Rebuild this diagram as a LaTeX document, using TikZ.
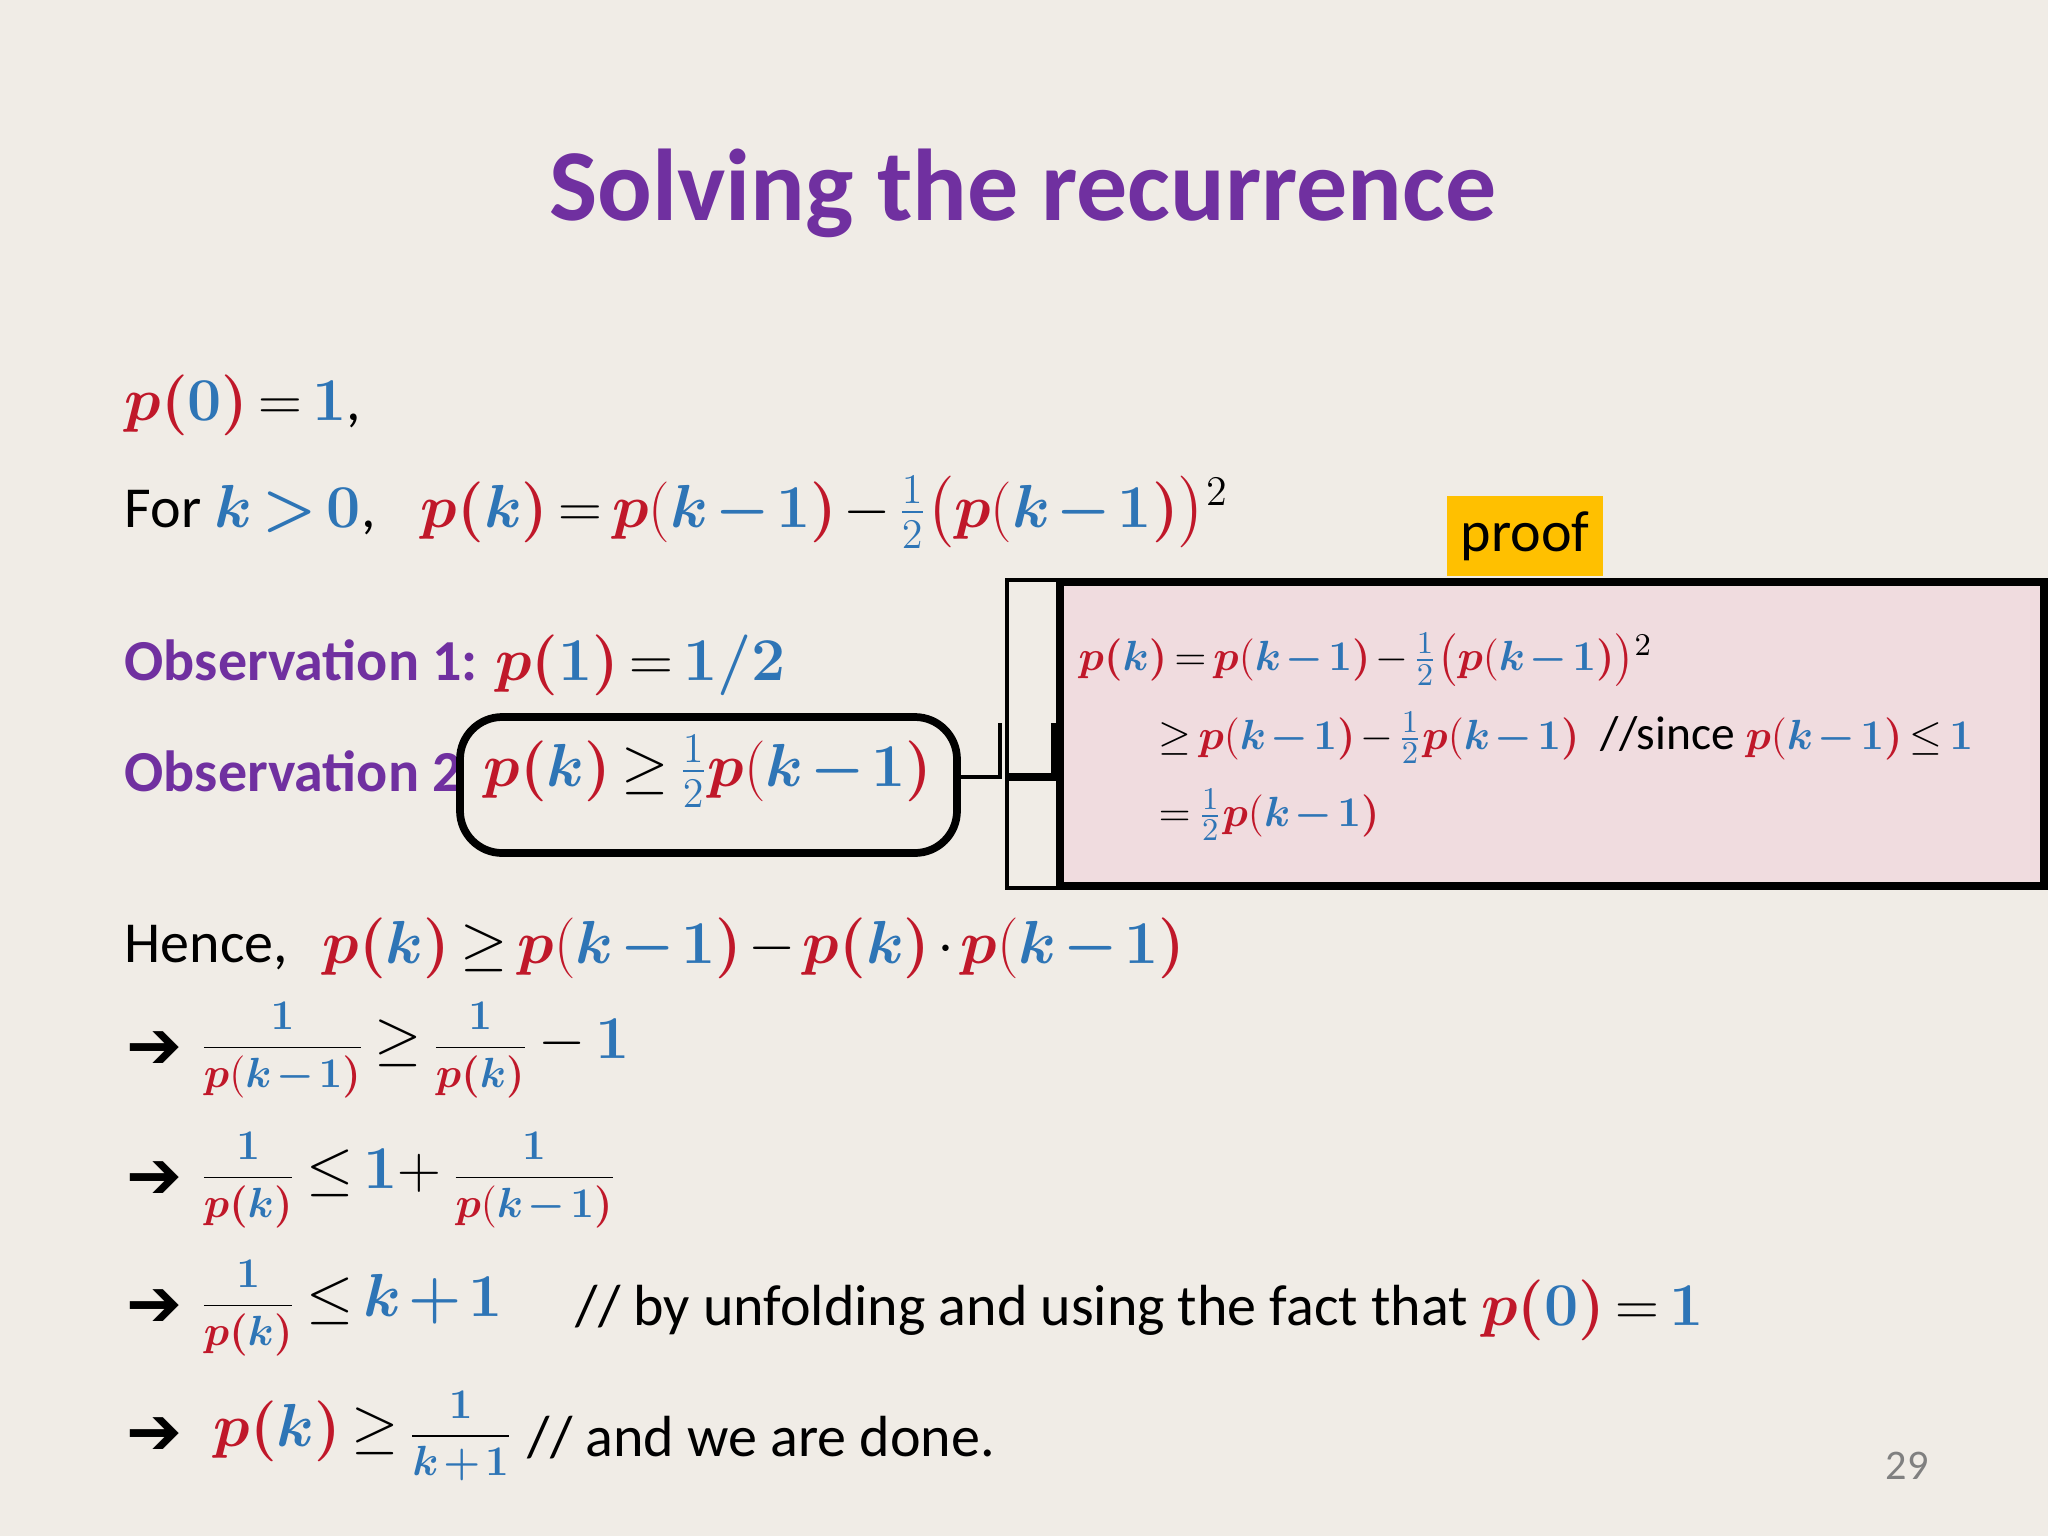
\documentclass[tikz,border=0pt]{standalone}
\usepackage{fontspec}
\usepackage{amsmath,amssymb,bm}
\setmainfont{Carlito}
\newfontfamily\djv{DejaVu Sans}
\definecolor{bg}{HTML}{F0ECE6}
\definecolor{myred}{HTML}{C0182A}
\definecolor{myblue}{HTML}{2E75B6}
\definecolor{mypurple}{HTML}{7030A0}
\definecolor{pinkfill}{HTML}{F0DCDF}
\definecolor{gold}{HTML}{FFC000}
\newcommand\R[1]{\textcolor{myred}{#1}}
\newcommand\Bl[1]{\textcolor{myblue}{#1}}
\newcommand\pp[1]{\R{\bm{p(}}\Bl{\bm{#1}}\R{\bm{)}}}
\newcommand\km{\Bl{\bm{k-1}}}
\newcommand\hf{\Bl{\tfrac{1}{2}}}
\newcommand\arr{{\djv\bfseries\fontsize{19}{20}\selectfont ➔}}
\newcommand\M[1]{{\fontsize{17}{20}\selectfont$\medmuskip=2mu\thickmuskip=3mu #1$}}
\newcommand\Ms[1]{{\fontsize{12.5}{15}\selectfont$\medmuskip=2mu\thickmuskip=3mu #1$}}
\newcommand\F[2]{{\fontsize{12.5}{15}\selectfont$\medmuskip=2mu\thickmuskip=3mu \dfrac{#1}{#2}$}}
\tikzset{
  txt/.style={anchor=west,inner sep=0pt,font=\fontsize{16.5}{20}\selectfont},
  ptxt/.style={anchor=west,inner sep=0pt,font=\fontsize{13.5}{16}\selectfont}
}
\begin{document}
\begin{tikzpicture}[x=0.01cm,y=-0.01cm]
\useasboundingbox[fill=bg] (0,0) rectangle (2048,1536);
\node[font=\fontsize{29}{34}\selectfont\bfseries,text=mypurple] (title) at (1023,193) {Solving the recurrence};
\node[txt] (l1) at (124,405) {\M{\pp{0}=\Bl{\bm 1}},};
\node[txt] (l2) at (124,512) {For \M{\Bl{\bm{k>0}}},\;\; \M{\pp{k}=\R{\bm p(}\km\R{\bm)}-\hf\R{\big(}\R{\bm p(}\km\R{\bm)}\R{\big)}^{2}}};
\node[txt] (o1) at (124,665) {\textcolor{mypurple}{\bfseries Observation 1:} \M{\pp{1}=\Bl{\bm{1/2}}}};
\node[txt] (o2) at (124,771) {\textcolor{mypurple}{\bfseries Observation 2}};
\node[txt] (o2m) at (483,771) {\M{\pp{k}\geq\hf\R{\bm p(}\km\R{\bm)}}};
\draw[line width=2.2pt,rounded corners=12pt] (460,717) rectangle (957,853);
% proof box
\node[fill=gold,minimum width=1.55cm,minimum height=0.79cm,inner sep=0pt,font=\fontsize{16.5}{20}\selectfont] (proof) at (1525,536) {proof};
\draw[line width=0.9pt] (1007,580) rectangle (2044,888);
\draw[line width=2.5pt,fill=pinkfill] (1060,582) rectangle (2044,886);
\draw[line width=0.9pt] (957,777) -- (1000,777) -- (1000,723);
\draw[line width=2.2pt] (1008,777) -- (1055,777) -- (1055,723);
\node[ptxt] (p1) at (1078,660) {\Ms{\pp{k}=\R{\bm p(}\km\R{\bm)}-\hf\R{\big(}\R{\bm p(}\km\R{\bm)}\R{\big)}^{2}}};
\node[ptxt] (p2) at (1158,738) {\Ms{\geq\R{\bm p(}\km\R{\bm)}-\hf\R{\bm p(}\km\R{\bm)}}\ \ //since \Ms{\R{\bm p(}\km\R{\bm)}\leq\Bl{\bm 1}}};
\node[ptxt] (p3) at (1158,815) {\Ms{=\hf\R{\bm p(}\km\R{\bm)}}};
% hence
\node[txt] (h) at (124,948) {Hence,};
\node[txt] (hm) at (322,948) {\M{\pp{k}\geq\R{\bm p(}\km\R{\bm)}-\pp{k}\cdot\R{\bm p(}\km\R{\bm)}}};
\node[txt] (r1) at (126,1050) {\arr};
\node[txt] (a1) at (199,1050) {\F{\Bl{\bm 1}}{\R{\bm p(}\km\R{\bm)}}\,\M{\geq}\,\F{\Bl{\bm 1}}{\pp{k}}\,\M{-\,\Bl{\bm 1}}};
\node[txt] (r2) at (126,1180) {\arr};
\node[txt] (a2) at (199,1180) {\F{\Bl{\bm 1}}{\pp{k}}\,\M{\leq\Bl{\bm 1}+}\,\F{\Bl{\bm 1}}{\R{\bm p(}\km\R{\bm)}}};
\node[txt] (r3) at (126,1308) {\arr};
\node[txt] (a3) at (199,1308) {\F{\Bl{\bm 1}}{\pp{k}}\,\M{\leq\Bl{\bm{k+1}}}};
\node[txt] (a3c) at (575,1310) {// by unfolding and using the fact that \M{\pp{0}=\Bl{\bm 1}}};
\node[txt] (r4) at (126,1436) {\arr};
\node[txt] (a4) at (213,1436) {\M{\pp{k}\geq}\,\F{\Bl{\bm 1}}{\Bl{\bm{k+1}}}};
\node[txt] (a4c) at (527,1438) {// and we are done.};
\node[text=gray,font=\fontsize{12}{14}\selectfont] (pg) at (1907,1466) {29};
\end{tikzpicture}
\end{document}
